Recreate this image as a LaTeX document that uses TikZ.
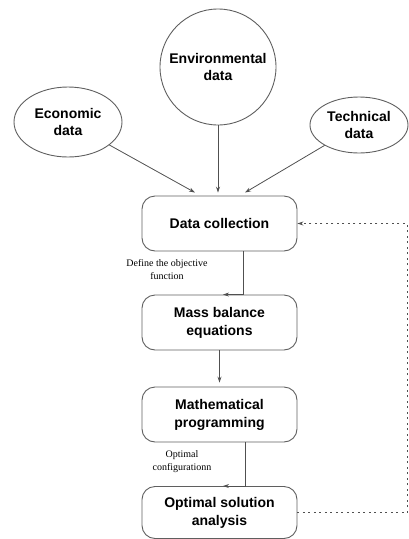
\documentclass[tikz,border=0pt]{standalone}
\usepackage{fontspec}
\setmainfont{Liberation Sans}
\newfontfamily\notefont{Liberation Serif}
\usetikzlibrary{shapes.geometric,arrows.meta}

\definecolor{edgegray}{RGB}{95,95,95}
\definecolor{linegray}{RGB}{80,80,80}

\tikzset{
	source/.style={draw=edgegray, line width=0.9pt, align=center, inner sep=0pt,
		font=\fontsize{14}{17}\selectfont\bfseries},
	stepbox/.style={draw=edgegray, line width=0.9pt, rounded corners=13pt, align=center,
		minimum width=155pt, minimum height=55pt, inner sep=0pt,
		font=\fontsize{14}{18}\selectfont\bfseries},
	flow/.style={draw=linegray, line width=0.8pt, -{Stealth[length=6pt,width=4pt]}},
	note/.style={align=center, font=\notefont\fontsize{10}{13}\selectfont}
}
\tikzset{every picture/.style={line width=0.75pt}}

\begin{document}
\begin{tikzpicture}[x=1pt,y=1pt,yscale=-1,xscale=1]
	\useasboundingbox (0,0) rectangle (409,539);

	%Shape: Circle [id:env]
	\node [source, circle, minimum size=116pt] (env) at (218,67) {Environmental\\data};
	%Shape: Ellipse [id:eco]
	\node [source, ellipse, minimum width=108pt, minimum height=70pt] (eco) at (68,122) {Economic\\data};
	%Shape: Ellipse [id:tech]
	\node [source, ellipse, minimum width=98pt, minimum height=56pt] (tech) at (359,125) {Technical\\data};

	%Shape: Rounded Rectangle [id:dc]
	\node [stepbox] (dc) at (219.5,223.5) {Data collection};
	%Shape: Rounded Rectangle [id:mb]
	\node [stepbox] (mb) at (219.5,322.5) {Mass balance\\equations};
	%Shape: Rounded Rectangle [id:mp]
	\node [stepbox] (mp) at (219.5,414.5) {Mathematical\\programming};
	%Shape: Rounded Rectangle [id:os]
	\node [stepbox, minimum height=52pt] (os) at (219.5,512.5) {Optimal solution\\analysis};

	%Straight Lines [id:eco-dc]
	\draw [flow] (eco) -- ([xshift=-24.5pt,yshift=-3pt]dc.north);
	%Straight Lines [id:env-dc]
	\draw [flow] (env) -- ([yshift=-3pt]dc.north -| env.south);
	%Straight Lines [id:tech-dc]
	\draw [flow] (tech) -- ([xshift=25.5pt,yshift=-3pt]dc.north);
	%Straight Lines [id:dc-mb]
	\draw [flow] ([xshift=23.5pt]dc.south) |- ([xshift=3.5pt]mb.north);
	%Straight Lines [id:mb-mp]
	\draw [flow] (mb.south) -- ([yshift=-4pt]mp.north);
	%Straight Lines [id:mp-os]
	\draw [flow] ([xshift=25.5pt]mp.south) |- ([xshift=3.5pt]os.north);
	%Straight Lines [id:os-dc]
	\draw [flow, dash pattern={on 2pt off 3.5pt}] (os.east) -- ++(110,0) |- (dc.east);

	% Text Node
	\node [note] (objective) at (167,270) {Define the objective\\function};
	% Text Node
	\node [note] (config) at (182,462) {Optimal\\configurationn};

\end{tikzpicture}
\end{document}
